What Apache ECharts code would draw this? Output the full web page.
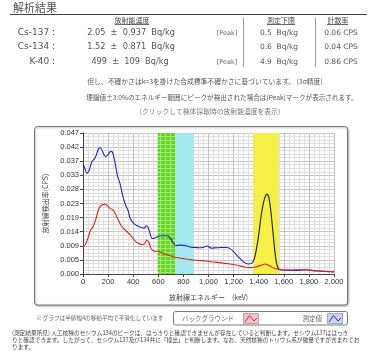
<!DOCTYPE html>
<html><head><meta charset="utf-8">
<script src="https://cdn.jsdelivr.net/npm/echarts@6/dist/echarts.min.js"></script>
<style>html,body{margin:0;padding:0;background:#fff;}#c{width:383px;height:361px;}</style>
</head><body><div id="c"></div>
<script>
// ---- data ----
const energyMeasured = [0,15,30,50,70,95,110,125,140,160,180,200,220,235,255,275,295,315,340,360,375,400,430,455,485,505,525,550,570,600,630,665,690,715,740,770,800,830,860,900,930,960,990,1020,1060,1100,1140,1170,1200,1230,1260,1290,1320,1345,1365,1385,1400,1420,1440,1455,1467,1480,1495,1510,1525,1540,1555,1575,1620,1680,1740,1780,1840,1900,1950,2000];
const measured = [0.0365,0.0350,0.0334,0.0345,0.0372,0.0384,0.0400,0.0417,0.0419,0.0402,0.0389,0.0396,0.0407,0.0404,0.0370,0.0325,0.0300,0.0262,0.0228,0.0210,0.0185,0.0170,0.0160,0.0156,0.0152,0.0160,0.0148,0.0118,0.0119,0.0125,0.0127,0.0127,0.0122,0.0106,0.0094,0.0096,0.0095,0.0093,0.0089,0.0088,0.0087,0.0089,0.0093,0.0086,0.0087,0.0088,0.0088,0.0085,0.0074,0.0060,0.0048,0.0037,0.0033,0.0036,0.0050,0.0090,0.0130,0.0195,0.0240,0.0260,0.0265,0.0255,0.0215,0.0155,0.0090,0.0040,0.0020,0.0014,0.0013,0.0012,0.0013,0.0014,0.0011,0.0009,0.0008,0.0007];
const energyBackground = [0,20,40,60,80,100,120,140,160,175,195,215,240,260,280,305,330,350,380,410,440,470,490,508,525,545,570,600,640,680,740,800,860,920,980,1040,1100,1160,1220,1280,1330,1380,1420,1450,1475,1500,1530,1570,1640,1700,1780,1850,1920,2000];
const background = [0.0090,0.0098,0.0120,0.0145,0.0157,0.0178,0.0210,0.0226,0.0231,0.0232,0.0226,0.0218,0.0212,0.0198,0.0180,0.0160,0.0148,0.0141,0.0128,0.0112,0.0102,0.0098,0.0100,0.0113,0.0104,0.0082,0.0076,0.0075,0.0068,0.0062,0.0055,0.0051,0.0047,0.0045,0.0043,0.0040,0.0037,0.0034,0.0030,0.0024,0.0021,0.0024,0.0029,0.0033,0.0030,0.0024,0.0018,0.0014,0.0013,0.0014,0.0014,0.0011,0.0009,0.0007];
const yTickLabels = ['0.000','0.005','0.009','0.014','0.019','0.023','0.028','0.033','0.037','0.042','0.047'];
const bandFrom = [595, 737, 1357];
const bandTo   = [737, 880, 1560];
const peakFrom = 1360, peakTo = 1558;

const JP = '"Noto Sans CJK JP", sans-serif';
const LAT = '"DejaVu Sans", sans-serif';
const AX = '"Liberation Sans", sans-serif';

function greenPattern(){
  const c = document.createElement('canvas'); c.width = 5; c.height = 4;
  const g = c.getContext('2d');
  g.fillStyle = '#62d624'; g.fillRect(0,0,5,4);
  g.fillStyle = '#a6ea72'; g.fillRect(0,0,1,4); g.fillRect(0,0,5,1);
  return c;
}
const bandColors = [{image: greenPattern(), repeat:'repeat'}, '#a4e8f0', '#f4f046'];

function txt(text, x, y, size, family, fill, align){
  return {type:'text', z:10, style:{text:text, x:x, y:y, font: size+'px '+family, fill:fill||'#555', textAlign:align||'left', textVerticalAlign:'middle'}};
}
function ln(x1,y1,x2,y2,color){
  return {type:'line', z:10, shape:{x1:x1,y1:y1,x2:x2,y2:y2}, style:{stroke:color||'#888', lineWidth:1}};
}

const graphics = [
  txt('解析結果', 13, 8, 11, JP, '#555'),
  ln(10, 14.5, 367, 14.5, '#444'),
  txt('放射能濃度', 132, 20.5, 7, JP, '#444', 'center'),
  ln(115, 24.5, 149, 24.5, '#666'),
  txt('測定下限', 281, 20.5, 7, JP, '#444', 'center'),
  ln(267, 24.5, 295, 24.5, '#666'),
  txt('計数率', 338, 20.5, 7, JP, '#444', 'center'),
  ln(327, 24.5, 348, 24.5, '#666'),
  ln(243.5, 18, 243.5, 67, '#999'),
  ln(315.5, 18, 315.5, 67, '#999'),
  txt('Cs-137 :', 55, 33, 9, LAT, '#555', 'right'),
  txt('Cs-134 :', 55, 47, 9, LAT, '#555', 'right'),
  txt('K-40 :', 55, 62, 9, LAT, '#555', 'right'),
  txt('2.05  ±  0.937  Bq/kg', 131, 33, 8.2, LAT, '#555', 'center'),
  txt('1.52  ±  0.871  Bq/kg', 131, 47, 8.2, LAT, '#555', 'center'),
  txt('499  ±  109  Bq/kg', 130, 62, 8.2, LAT, '#555', 'center'),
  txt('[Peak]', 227, 33, 6.5, LAT, '#666', 'center'),
  txt('[Peak]', 227, 62, 6.5, LAT, '#666', 'center'),
  txt('0.5  Bq/kg', 279, 33, 7.5, LAT, '#555', 'center'),
  txt('0.6  Bq/kg', 279, 47, 7.5, LAT, '#555', 'center'),
  txt('4.9  Bq/kg', 279, 62, 7.5, LAT, '#555', 'center'),
  txt('0.06 CPS', 341, 33, 7.5, LAT, '#555', 'center'),
  txt('0.04 CPS', 341, 47, 7.5, LAT, '#555', 'center'),
  txt('0.86 CPS', 341, 62, 7.5, LAT, '#555', 'center'),
  txt('但し、不確かさはk=3を掛けた合成標準不確かさに基づいています。 (3σ精度)', 205, 81, 6.8, JP, '#555', 'center'),
  txt('理論値±3.0%のエネルギー範囲にピークが検出された場合は[Peak]マークが表示されます。', 222, 97.5, 6.6, JP, '#555', 'center'),
  txt('（クリックして検体採取時の放射能濃度を表示）', 210, 111, 6.8, JP, '#777', 'center'),
  {type:'rect', z:-1, shape:{x:34.5, y:126.5, width:313, height:178.5, r:3}, style:{fill:'#fff', stroke:'#777', lineWidth:1, shadowBlur:2, shadowOffsetX:1, shadowOffsetY:1, shadowColor:'rgba(0,0,0,0.3)'}},
  txt('※ グラフは半値幅4の移動平均で平滑化しています', 36, 318, 5.6, JP, '#666'),
  {type:'rect', z:9, shape:{x:173.5, y:311.5, width:174, height:13.5, r:2}, style:{fill:'#fff', stroke:'#777', lineWidth:1}},
  txt('バックグラウンド', 182, 318.5, 6.5, JP, '#666'),
  {type:'rect', z:10, shape:{x:243.5, y:313.5, width:15, height:10}, style:{fill:'#f0c4c4', stroke:'#aaa', lineWidth:1}},
  {type:'polyline', z:11, shape:{points:[[245,322],[249.5,315.5],[254,321],[257,318]]}, style:{stroke:'#e03030', lineWidth:1, fill:null}},
  txt('測定値', 322, 318.5, 6.5, JP, '#666', 'right'),
  {type:'rect', z:10, shape:{x:327.5, y:313.5, width:15, height:10}, style:{fill:'#c8d4f0', stroke:'#aaa', lineWidth:1}},
  {type:'polyline', z:11, shape:{points:[[329,322],[333.5,315.5],[338,321],[341,318]]}, style:{stroke:'#2a2ad0', lineWidth:1, fill:null}},
  txt('(測定結果所見) 人工核種のセシウム134のピークは、はっきりと確認できませんが存在していると判断します。セシウム137ははっき', 12, 333, 5.7, JP, '#444'),
  txt('りと確認できます。したがって、セシウム137及び134共に「検出」と判断します。なお、天然核種のトリウム系が微量ですが含まれてお', 12, 340, 5.7, JP, '#444'),
  txt('ります。', 12, 347, 5.7, JP, '#444')
];

const chart = echarts.init(document.getElementById('c'), null, {renderer:'canvas'});
chart.setOption({
  animation: false,
  backgroundColor: 'transparent',
  graphic: graphics,
  grid: {left: 83, right: 49, top: 133, bottom: 87, containLabel: false},
  xAxis: {
    type: 'value', min: 0, max: 2000, interval: 200,
    name: '放射線エネルギー　(keV)', nameLocation: 'middle', nameGap: 20,
    nameTextStyle: {fontFamily: JP, fontSize: 7, color: '#444'},
    axisLine: {show: true, onZero: false, lineStyle: {color: '#444'}},
    axisTick: {show: true, length: 3, lineStyle: {color: '#444'}},
    axisLabel: {fontFamily: AX, fontSize: 7.5, color: '#333', margin: 4},
    splitLine: {show: true, lineStyle: {color: '#c4c4c4', width: 1}},
    minorTick: {show: false, splitNumber: 5},
    minorSplitLine: {show: true, lineStyle: {color: '#dedede', width: 1}}
  },
  yAxis: {
    type: 'value', min: 0, max: 0.0468, interval: 0.00468,
    name: '放射線検出率(CPS)', nameLocation: 'middle', nameGap: 25, nameRotate: 90,
    nameTextStyle: {fontFamily: JP, fontSize: 7, color: '#444'},
    axisLine: {show: true, lineStyle: {color: '#444'}},
    axisTick: {show: true, length: 3, lineStyle: {color: '#444'}},
    axisLabel: {fontFamily: AX, fontSize: 7.5, color: '#333', margin: 4,
      formatter: function(v, i){ return yTickLabels[i] !== undefined ? yTickLabels[i] : ''; }},
    splitLine: {show: true, lineStyle: {color: '#c4c4c4', width: 1}},
    minorTick: {show: false, splitNumber: 4},
    minorSplitLine: {show: true, lineStyle: {color: '#dedede', width: 1}}
  },
  visualMap: [{
    type: 'piecewise', show: false, dimension: 0, seriesIndex: 1,
    pieces: [{lt: peakFrom, color: '#2222c0'}, {gte: peakFrom, lte: peakTo, color: '#1e1e1e'}, {gt: peakTo, color: '#2222c0'}]
  }],
  series: [
    {
      type: 'line', z: 1, data: [], symbol: 'none', silent: true,
      markArea: {silent: true, data: bandFrom.map(function(f, i){
        return [{xAxis: f, itemStyle: {color: bandColors[i], opacity: 1}}, {xAxis: bandTo[i]}];
      })}
    },
    {
      name: '測定値', type: 'line', z: 3, symbol: 'none', smooth: 0.25,
      lineStyle: {width: 1.1},
      data: energyMeasured.map(function(e, i){ return [e, measured[i]]; })
    },
    {
      name: 'バックグラウンド', type: 'line', z: 4, symbol: 'none', smooth: 0.25,
      lineStyle: {width: 1.1, color: '#dd2222'}, itemStyle: {color: '#dd2222'},
      data: energyBackground.map(function(e, i){ return [e, background[i]]; })
    }
  ]
});
</script>
</body></html>
